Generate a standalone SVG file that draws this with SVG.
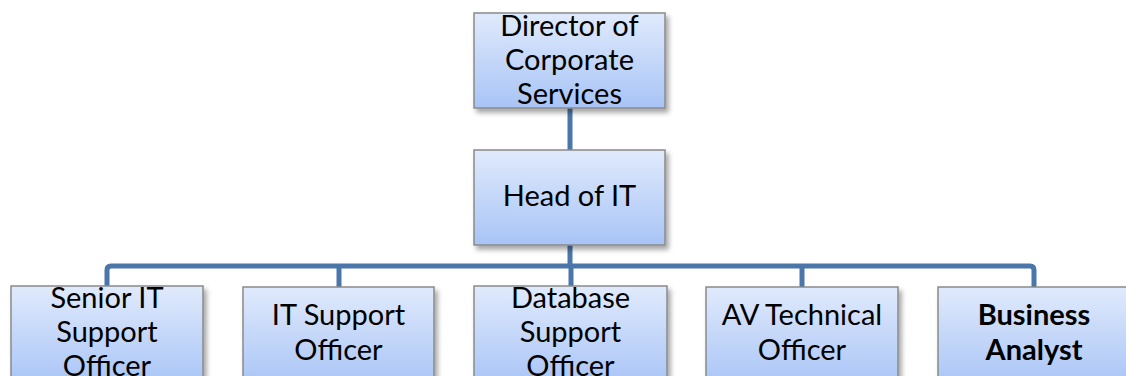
<svg xmlns="http://www.w3.org/2000/svg" width="1126" height="376" viewBox="0 0 1126 376">
  <defs>
    <linearGradient id="boxFill" x1="0" y1="0" x2="0" y2="1">
      <stop offset="0" stop-color="#e0eafc"/>
      <stop offset="1" stop-color="#a8c4f6"/>
    </linearGradient>
    <filter id="shadow" x="-10%" y="-10%" width="130%" height="140%">
      <feDropShadow dx="3" dy="4" stdDeviation="2.5" flood-color="#000" flood-opacity="0.35"/>
    </filter>
  </defs>
  <style>
    .box { fill: url(#boxFill); stroke: #8a8a8a; stroke-width: 1.5; filter: url(#shadow); }
    .lbl { font-family: Lato, "Liberation Sans", sans-serif; font-size: 29px; fill: #000; text-anchor: middle; }
    .bold { font-weight: bold; }
    .link { fill: none; stroke: #4a76aa; stroke-width: 5; stroke-linejoin: round; }
  </style>

  <!-- connectors -->
  <g id="connectors">
    <path class="link" d="M570 108 V150"/>
    <path class="link" d="M570 245 V266"/>
    <path class="link" d="M107 287 V270 Q107 266 111 266 H1030 Q1034 266 1034 270 V287"/>
    <path class="link" d="M339 266 V287"/>
    <path class="link" d="M571 266 V287"/>
    <path class="link" d="M802 266 V287"/>
  </g>

  <g id="director">
    <rect class="box" x="474" y="13" width="191" height="95"/>
    <text class="lbl" x="569.5" y="36">Director of</text>
    <text class="lbl" x="569.5" y="70">Corporate</text>
    <text class="lbl" x="569.5" y="104">Services</text>
  </g>

  <g id="head-it">
    <rect class="box" x="474" y="150" width="191" height="95"/>
    <text class="lbl" x="569.5" y="206">Head of IT</text>
  </g>

  <g id="senior-it-support">
    <rect class="box" x="11" y="286" width="192" height="100"/>
    <text class="lbl" x="107" y="308">Senior IT</text>
    <text class="lbl" x="107" y="342">Support</text>
    <text class="lbl" x="107" y="376">Officer</text>
  </g>

  <g id="it-support">
    <rect class="box" x="243" y="287" width="191" height="100"/>
    <text class="lbl" x="338.5" y="325">IT Support</text>
    <text class="lbl" x="338.5" y="360">Officer</text>
  </g>

  <g id="database-support">
    <rect class="box" x="474" y="286" width="193" height="100"/>
    <text class="lbl" x="570.5" y="308">Database</text>
    <text class="lbl" x="570.5" y="342">Support</text>
    <text class="lbl" x="570.5" y="376">Officer</text>
  </g>

  <g id="av-technical">
    <rect class="box" x="706" y="287" width="192" height="100"/>
    <text class="lbl" x="802" y="325">AV Technical</text>
    <text class="lbl" x="802" y="360">Officer</text>
  </g>

  <g id="business-analyst">
    <rect class="box" x="938" y="287" width="192" height="100"/>
    <text class="lbl bold" x="1034" y="325">Business</text>
    <text class="lbl bold" x="1034" y="360">Analyst</text>
  </g>
</svg>
